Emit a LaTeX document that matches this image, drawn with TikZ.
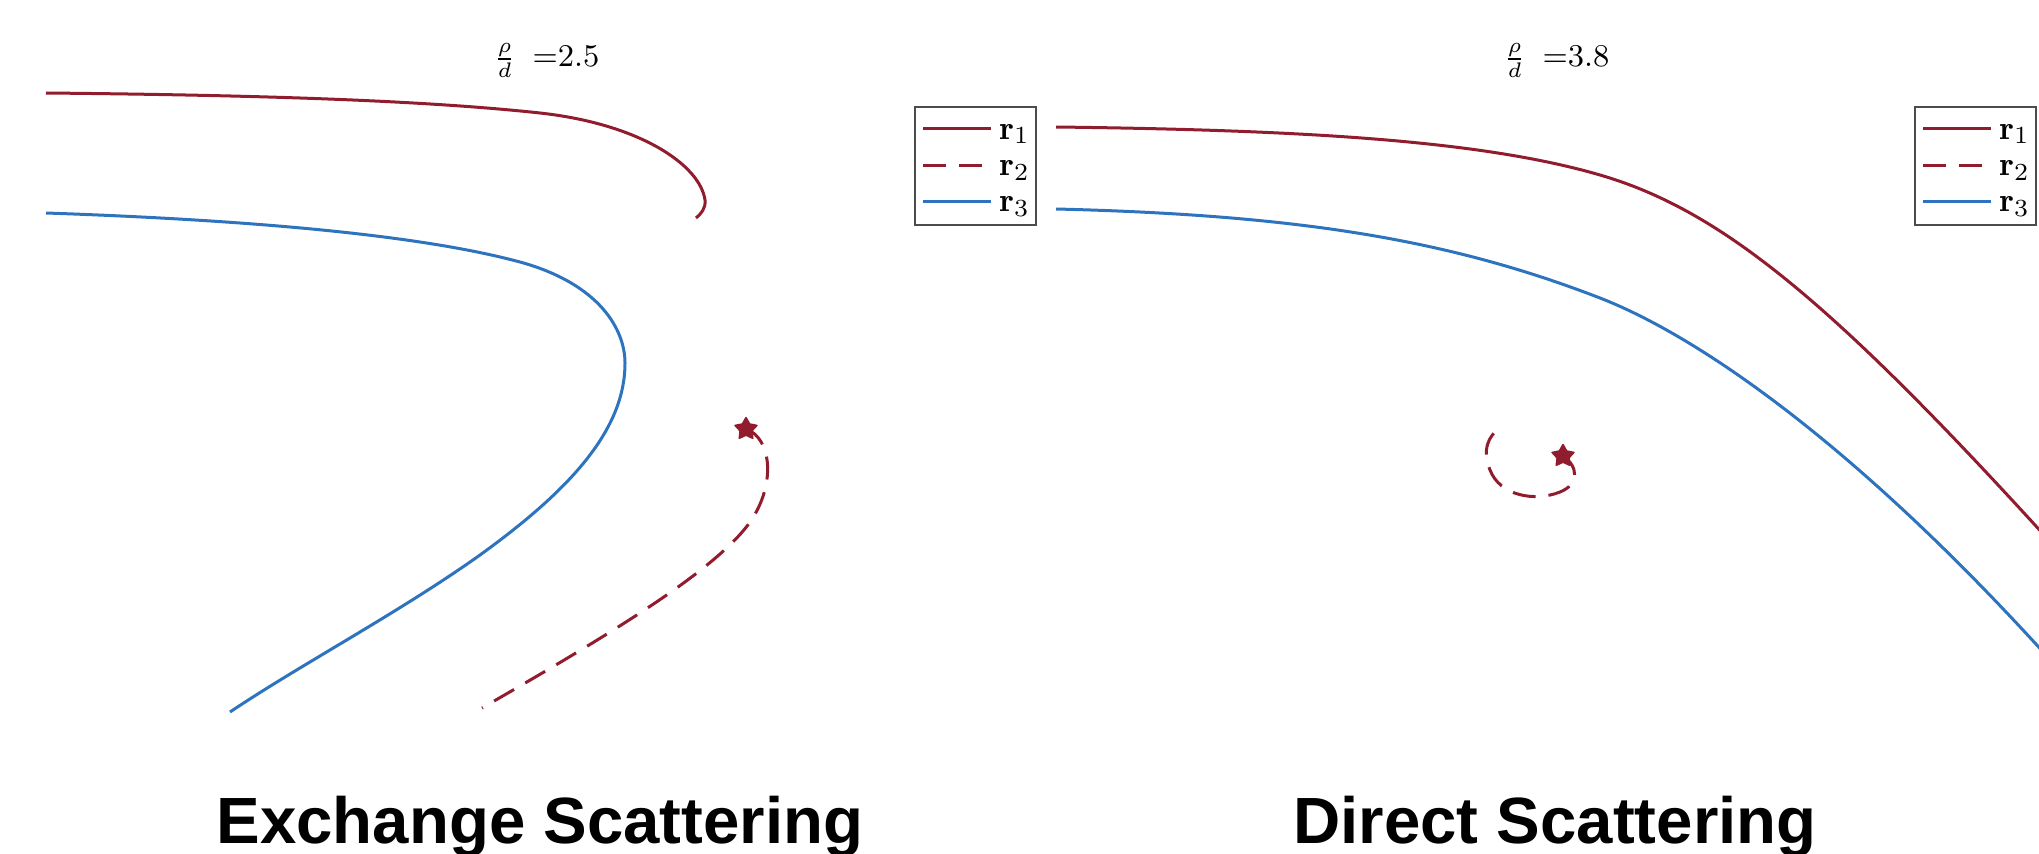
\documentclass[tikz,border=0pt]{standalone}
\usepackage{fontspec}
\newfontfamily\captionfont{Liberation Sans}
\usetikzlibrary{shapes.geometric}
\definecolor{trajred}{RGB}{145,28,45}
\definecolor{trajblue}{RGB}{45,115,190}
\begin{document}
\begin{tikzpicture}[x=0.1mm,y=-0.1mm,
  traj/.style={line width=0.3mm, line join=round},
  rone/.style={traj, draw=trajred},
  rtwo/.style={traj, draw=trajred, dash pattern=on 2.3mm off 1.3mm},
  rthree/.style={traj, draw=trajblue},
  startmark/.style={star, star points=5, star point ratio=1.85, fill=trajred,
    draw=trajred, line width=0.15mm, line join=round, inner sep=0pt, minimum size=2.3mm},
  legendframe/.style={draw=black!70, line width=0.12mm, fill=white},
  legendtext/.style={font=\fontsize{9.5}{11}\selectfont, anchor=base west, inner sep=0pt},
  paneltitle/.style={font=\fontsize{9}{10}\selectfont, anchor=base west, inner sep=0pt},
  caption/.style={font=\captionfont\bfseries\fontsize{18.6}{22}\selectfont,
    anchor=base, inner sep=0pt}
]
\useasboundingbox (0,0) rectangle (2039,854);
\clip (0,0) rectangle (2039,854);

% ---------------- left panel: exchange scattering ----------------
\node[paneltitle] (titleL) at (493,67) {\(\frac{\rho}{d}\)\hspace{0.6mm} =2.5};

% r1: comes in from the left and turns back
\draw[rone] (46,93) .. controls (250,95) and (420,100) .. (540,113)
  .. controls (640,124) and (700,165) .. (705,200)
  .. controls (706,208) and (701,214) .. (696,218);
% r3: swings round and leaves to the lower left
\draw[rthree] (46,213) .. controls (250,220) and (420,235) .. (520,262)
  .. controls (600,284) and (625,330) .. (625,363)
  .. controls (625,430) and (570,490) .. (480,555)
  .. controls (400,612) and (300,665) .. (230,712);
% r2: starts at the marked point
\node[startmark] (starL) at (746,429) {};
\draw[rtwo] (starL.center) .. controls (772,438) and (776,485) .. (750,522)
  .. controls (715,572) and (600,640) .. (482,708);

\draw[legendframe] (915,107) rectangle (1036,225);
\draw[rone]  (923,129) -- (991,129);
\draw[rtwo]  (923,166) -- (991,166);
\draw[rthree] (923,202) -- (991,202);
\node[legendtext] (legLa) at (999,139) {\(\mathbf{r}_1\)};
\node[legendtext] (legLb) at (999,176) {\(\mathbf{r}_2\)};
\node[legendtext] (legLc) at (999,212) {\(\mathbf{r}_3\)};

\node[caption] (capL) at (540,843) {Exchange Scattering};

% ---------------- right panel: direct scattering ----------------
\node[paneltitle] (titleR) at (1503,67) {\(\frac{\rho}{d}\)\hspace{0.6mm} =3.8};

\draw[rone] (1056,127) .. controls (1300,130) and (1480,140) .. (1600,175)
  .. controls (1720,210) and (1830,300) .. (2045,536);
\draw[rthree] (1056,209) .. controls (1300,215) and (1450,240) .. (1600,298)
  .. controls (1700,337) and (1855,445) .. (2045,654);
% r2: small loop around the marked point
\node[startmark] (starR) at (1563,456) {};
\draw[rtwo] (starR.center) .. controls (1578,466) and (1580,484) .. (1560,492)
  .. controls (1535,502) and (1500,496) .. (1490,470)
  .. controls (1482,450) and (1488,436) .. (1500,428);

\draw[legendframe] (1915,107) rectangle (2036,225);
\draw[rone]  (1923,129) -- (1991,129);
\draw[rtwo]  (1923,166) -- (1991,166);
\draw[rthree] (1923,202) -- (1991,202);
\node[legendtext] (legRa) at (1999,139) {\(\mathbf{r}_1\)};
\node[legendtext] (legRb) at (1999,176) {\(\mathbf{r}_2\)};
\node[legendtext] (legRc) at (1999,212) {\(\mathbf{r}_3\)};

\node[caption] (capR) at (1555,843) {Direct Scattering};
\end{tikzpicture}
\end{document}
